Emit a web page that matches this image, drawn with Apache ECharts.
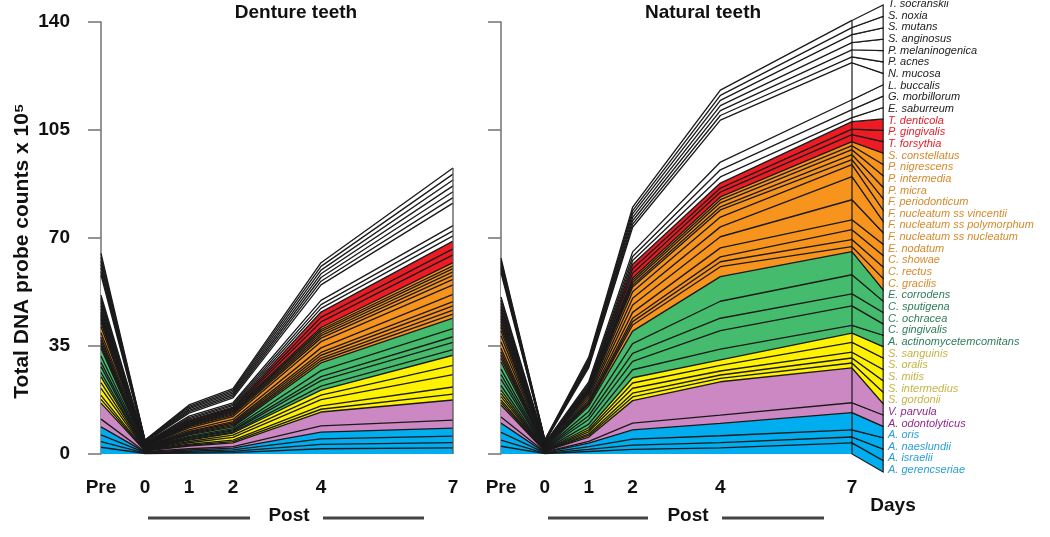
<!DOCTYPE html>
<html><head><meta charset="utf-8">
<script src="https://cdn.jsdelivr.net/npm/echarts@6/dist/echarts.min.js"></script>
<style>html,body{margin:0;padding:0;background:#fff}#c{width:1050px;height:537px}</style>
</head><body><div id="c"></div>
<script>
// ---- data (stack order: bottom -> top) ----
const days = [-1, 0, 1, 2, 4, 7];
const tickValues = [-1, 0, 1, 2, 4, 7];
const tickLabels = ['Pre', '0', '1', '2', '4', '7'];
const panelTitles = ['Denture teeth', 'Natural teeth'];
const yTicks = [0, 35, 70, 105, 140];

const species = [
  'A. gerencseriae', 'A. israelii', 'A. naeslundii', 'A. oris',
  'A. odontolyticus', 'V. parvula',
  'S. gordonii', 'S. intermedius', 'S. mitis', 'S. oralis', 'S. sanguinis',
  'A. actinomycetemcomitans', 'C. gingivalis', 'C. ochracea', 'C. sputigena', 'E. corrodens',
  'C. gracilis', 'C. rectus', 'C. showae', 'E. nodatum', 'F. nucleatum ss nucleatum',
  'F. nucleatum ss polymorphum', 'F. nucleatum ss vincentii', 'F. periodonticum',
  'P. micra', 'P. intermedia', 'P. nigrescens', 'S. constellatus',
  'T. forsythia', 'P. gingivalis', 'T. denticola',
  'E. saburreum', 'G. morbillorum', 'L. buccalis', 'N. mucosa', 'P. acnes',
  'P. melaninogenica', 'S. anginosus', 'S. mutans', 'S. noxia', 'T. socranskii'
];
const complex = [
  'blue','blue','blue','blue',
  'purple','purple',
  'yellow','yellow','yellow','yellow','yellow',
  'green','green','green','green','green',
  'orange','orange','orange','orange','orange','orange','orange','orange','orange','orange','orange','orange',
  'red','red','red',
  'other','other','other','other','other','other','other','other','other','other'
];

// values x 10^5 at Pre, 0, 1, 2, 4, 7 days
const dentureValues = [
  [2.2, .15, .3, .45, 1.7, 2.0],
  [1.8, .12, .25, .4, 1.4, 1.7],
  [2.2, .15, .35, .5, 1.8, 2.1],
  [2.6, .18, .4, .55, 2.2, 2.6],
  [2.5, .15, .4, .5, 2.0, 2.6],
  [5.2, .25, .9, 1.2, 4.5, 6.5],
  [1.2, .07, .25, .4, .9, 1.9],
  [1.3, .08, .3, .5, 1.1, 2.3],
  [2.3, .13, .5, .9, 2.0, 4.0],
  [1.8, .1, .4, .7, 1.5, 3.0],
  [1.9, .12, .45, .7, 1.6, 3.3],
  [1.4, .08, .25, .3, 1.3, 1.8],
  [1.9, .1, .35, .4, 1.8, 2.4],
  [1.4, .07, .25, .3, 1.3, 1.8],
  [2.0, .11, .38, .45, 1.9, 2.6],
  [2.6, .14, .47, .55, 2.5, 3.4],
  [.8, .07, .27, .4, .8, 1.3],
  [.8, .07, .27, .4, .8, 1.3],
  [.95, .08, .3, .45, .9, 1.4],
  [.95, .08, .3, .45, .9, 1.4],
  [1.5, .13, .5, .7, 1.5, 2.3],
  [2.0, .17, .65, .95, 2.0, 3.1],
  [1.2, .1, .38, .55, 1.15, 1.8],
  [.8, .07, .27, .4, .8, 1.3],
  [.7, .06, .23, .33, .7, 1.1],
  [.7, .06, .23, .33, .7, 1.1],
  [.6, .05, .2, .27, .6, .9],
  [.7, .06, .2, .27, .65, 1.0],
  [1.0, .07, .35, .3, 1.8, 2.5],
  [1.0, .06, .3, .3, 1.5, 2.0],
  [1.0, .07, .35, .3, 1.7, 2.5],
  [.8, .12, .4, .45, 1.2, 1.7],
  [.8, .12, .4, .45, 1.2, 1.6],
  [.9, .13, .45, .5, 1.4, 1.7],
  [6.5, .25, 1.0, 1.6, 5.0, 7.3],
  [1.15, .11, .45, .5, 1.2, 1.8],
  [1.15, .12, .45, .5, 1.2, 1.9],
  [1.15, .12, .45, .5, 1.2, 1.9],
  [1.15, .11, .45, .5, 1.2, 1.9],
  [1.2, .11, .4, .5, 1.2, 1.9],
  [1.2, .11, .45, .5, 1.2, 2.0]
];
const naturalValues = [
  [2.5, .12, .8, 1.5, 2.0, 3.6],
  [2.0, .1, .7, 1.4, 1.7, 1.9],
  [2.5, .13, .9, 1.9, 2.2, 2.3],
  [3.0, .15, 1.1, 3.0, 4.0, 5.6],
  [2.0, .15, .6, 2.2, 2.7, 3.2],
  [3.9, .25, 1.4, 7.3, 10.8, 11.3],
  [.8, .07, .5, 1.2, 1.1, 1.6],
  [.8, .07, .5, 1.2, 1.1, 1.6],
  [1.1, .09, .7, 1.6, 1.3, 1.9],
  [1.0, .08, .6, 1.7, 1.8, 3.2],
  [1.1, .09, .7, 1.7, 1.8, 3.0],
  [1.5, .1, 1.2, 2.6, 3.5, 2.5],
  [2.0, .15, 1.5, 2.7, 6.0, 6.3],
  [1.5, .12, 1.2, 2.6, 4.0, 3.9],
  [1.8, .15, 1.4, 3.2, 5.5, 6.2],
  [2.3, .18, 1.7, 4.0, 8.0, 7.5],
  [1.2, .1, .6, 2.0, 3.2, 1.6],
  [1.0, .07, .35, 1.1, 1.6, 2.3],
  [1.1, .07, .35, 1.1, 1.6, 3.2],
  [1.2, .1, .6, 1.9, 2.9, 3.2],
  [2.0, .15, .8, 2.4, 3.6, 6.5],
  [2.0, .13, .7, 2.2, 3.2, 7.5],
  [1.6, .12, .7, 2.1, 3.2, 3.9],
  [1.2, .09, .5, 1.5, 2.3, 1.6],
  [.9, .05, .22, .7, 1.0, 1.6],
  [1.0, .05, .25, .8, 1.3, 1.6],
  [.9, .04, .2, .7, 1.0, 1.3],
  [.9, .03, .23, .7, .9, 1.3],
  [1.1, .07, .3, 1.6, 1.6, 2.3],
  [1.0, .06, .2, 1.4, 1.3, 1.8],
  [1.0, .07, .3, 1.5, 1.6, 2.4],
  [1.0, .1, .5, 1.2, 2.0, 1.3],
  [1.0, .1, .5, 1.3, 2.3, 2.6],
  [1.0, .12, .6, 1.5, 2.5, 3.2],
  [7.8, .4, 4.6, 8.0, 13.6, 12.0],
  [.8, .11, .55, 1.0, 1.5, 1.9],
  [.8, .11, .55, 1.1, 1.6, 2.3],
  [.8, .11, .55, 1.1, 1.6, 2.3],
  [.8, .11, .55, 1.1, 1.7, 2.6],
  [.8, .12, .55, 1.1, 1.6, 2.3],
  [.8, .12, .65, 1.1, 1.7, 2.3]
];

// ---- styles / layout ----
const FONT = '"Liberation Sans", Arial, Helvetica, sans-serif';
const fillColor = {blue:'#00aeef', purple:'#cc88c2', yellow:'#fff200', green:'#45bc6d', orange:'#f7941d', red:'#ed1c24', other:'#ffffff'};
const textColor = {blue:'#2a9fd3', purple:'#93278f', yellow:'#c4b443', green:'#2e7d5c', orange:'#d48a2c', red:'#e3202b', other:'#222222'};
const LINE = '#1a1a1a';
const LINE_W = 1.35;
// fan / label layout in right-panel data units
const fanEnd = 7.71, labelX = 7.82;
const fanTop = 145.5, fanBottom = -5.8, labelTop = 145.8, labelBottom = -5.2;
const lastIdx = days.length - 1;

// running (stacked) totals, bottom species first
function cumulative(rows) {
  const out = [];
  let run = days.map(() => 0);
  rows.forEach(r => { run = run.map((v, k) => v + r[k]); out.push(run.slice()); });
  return out;
}
const dentureCum = cumulative(dentureValues);
const naturalCum = cumulative(naturalValues);

function panelSeries(cum, g) {
  const out = [];
  // areas: draw top band first, each filled down to 0, lower bands painted over
  for (let i = cum.length - 1; i >= 0; i--) {
    out.push({
      type: 'line', xAxisIndex: g, yAxisIndex: g,
      data: days.map((d, k) => [d, cum[i][k]]), symbol: 'none', silent: true, clip: false,
      lineStyle: {opacity: 0, width: 0},
      areaStyle: {color: fillColor[complex[i]], opacity: 1, origin: 'start'}, z: 2
    });
  }
  cum.forEach((c, i) => {
    out.push({
      type: 'line', xAxisIndex: g, yAxisIndex: g,
      data: days.map((d, k) => [d, c[k]]), symbol: 'none', silent: true, clip: false,
      lineStyle: {color: LINE, width: LINE_W}, z: 3
    });
  });
  return out;
}

function xAxisCfg(g) {
  return {
    type: 'value', gridIndex: g, min: -1, max: 7, interval: 1,
    axisLine: {show: false, onZero: false}, axisTick: {show: false}, splitLine: {show: false},
    axisLabel: {
      show: true, margin: 24, showMinLabel: true, showMaxLabel: true,
      color: '#111', fontFamily: FONT, fontWeight: 'bold', fontSize: 19,
      formatter: v => { const i = tickValues.indexOf(v); return i >= 0 ? tickLabels[i] : ''; }
    }
  };
}
function yAxisCfg(g) {
  return {
    type: 'value', gridIndex: g, min: yTicks[0], max: yTicks[yTicks.length - 1], interval: 35,
    axisLine: {show: true, onZero: false, lineStyle: {color: '#7a7a7a', width: 1.6}},
    axisTick: {show: true, inside: false, length: 13, lineStyle: {color: '#7a7a7a', width: 1.6}},
    splitLine: {show: false},
    axisLabel: {show: g === 0, margin: 31, color: '#111', fontFamily: FONT, fontWeight: 'bold', fontSize: 19}
  };
}

const edgeSeries = {
  type: 'custom', coordinateSystem: 'cartesian2d', xAxisIndex: 0, yAxisIndex: 0,
  data: [[7, 0]], clip: false, silent: true, z: 4,
  renderItem: (params, api) => {
    const a = api.coord([days[lastIdx], 0]);
    const b = api.coord([days[lastIdx], dentureCum[dentureCum.length - 1][lastIdx]]);
    return {type: 'line', shape: {x1: a[0], y1: a[1], x2: b[0], y2: b[1]}, style: {stroke: '#555', lineWidth: 1.3}};
  }
};

const n = species.length;
const fanSeries = {
  type: 'custom', coordinateSystem: 'cartesian2d', xAxisIndex: 1, yAxisIndex: 1,
  data: species.map((s, i) => [7, i]), clip: false, silent: true, z: 4,
  renderItem: (params, api) => {
    const i = params.dataIndex;
    const top = naturalCum[i][lastIdx];
    const base = i > 0 ? naturalCum[i - 1][lastIdx] : 0;
    const j = n - 1 - i;
    const step = (fanTop - fanBottom) / n;
    const sTop = fanTop - j * step, sBot = sTop - step;
    const p1 = api.coord([days[lastIdx], top]), p4 = api.coord([days[lastIdx], base]);
    const p2 = api.coord([fanEnd, sTop]), p3 = api.coord([fanEnd, sBot]);
    const lv = labelTop - j * (labelTop - labelBottom) / (n - 1);
    const lp = api.coord([labelX, lv]);
    return {
      type: 'group', children: [
        {type: 'polygon', shape: {points: [p1, p2, p3, p4]}, style: {fill: fillColor[complex[i]], stroke: LINE, lineWidth: 1.2}},
        {type: 'text', x: lp[0], y: lp[1], style: {text: species[i], fill: textColor[complex[i]], font: 'italic 11px ' + FONT, align: 'left', verticalAlign: 'middle'}}
      ]
    };
  }
};

const boldText = (text, x, y, size, extra) => Object.assign({
  type: 'text', x, y, silent: true, z: 100,
  style: {text, fill: '#111', font: 'bold ' + size + 'px ' + FONT, align: 'center', verticalAlign: 'middle'}
}, extra || {});
const rule = (x1, x2, y) => ({type: 'line', silent: true, z: 100, shape: {x1, y1: y, x2, y2: y}, style: {stroke: '#444', lineWidth: 3}});

const option = {
  animation: false,
  backgroundColor: '#fff',
  grid: [
    {left: 101, top: 22, width: 352, height: 432, containLabel: false, outerBoundsMode: 'none'},
    {left: 501, top: 22, width: 351, height: 432, containLabel: false, outerBoundsMode: 'none'}
  ],
  xAxis: [xAxisCfg(0), xAxisCfg(1)],
  yAxis: [yAxisCfg(0), yAxisCfg(1)],
  series: [...panelSeries(dentureCum, 0), ...panelSeries(naturalCum, 1), edgeSeries, fanSeries],
  graphic: [
    boldText(panelTitles[0], 296, 13, 19),
    boldText(panelTitles[1], 703, 13, 19),
    boldText('Total DNA probe counts x 10\u2075', 22, 251, 21, {rotation: Math.PI / 2}),
    boldText('Post', 289, 516, 19), rule(148, 250, 518), rule(323, 424, 518),
    boldText('Post', 688, 516, 19), rule(548, 648, 518), rule(722, 824, 518),
    boldText('Days', 893, 506, 19)
  ]
};

const chart = echarts.init(document.getElementById('c'), null, {renderer: 'canvas'});
chart.setOption(option);
</script>
</body></html>
